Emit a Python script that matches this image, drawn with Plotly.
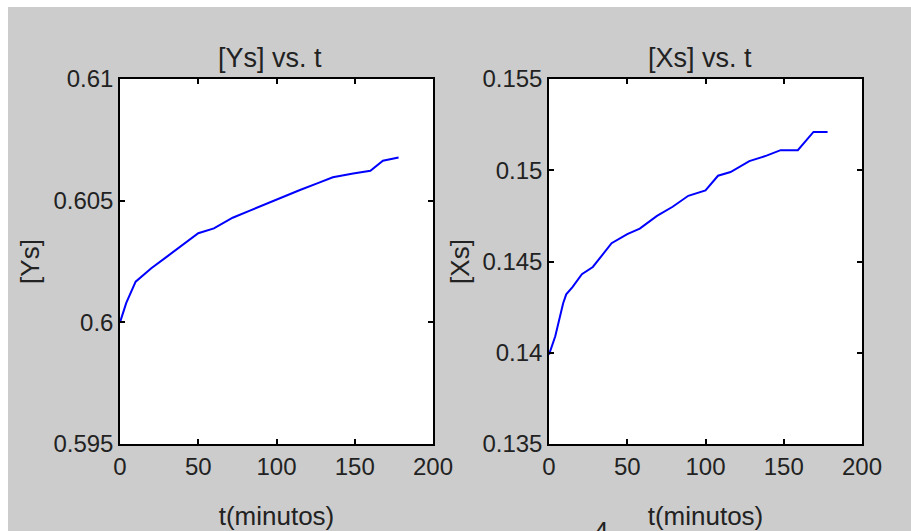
import plotly.graph_objects as go

# ---- data ----
t_ys = [0, 4, 10, 20, 30, 40, 50, 60, 72, 83, 94, 104, 115, 126, 136, 149, 160, 168, 178]
ys = [0.6000, 0.6008, 0.60167, 0.60222, 0.60270, 0.60318, 0.60366, 0.60386, 0.60430,
      0.60459, 0.60489, 0.60516, 0.60544, 0.60571, 0.60596, 0.60612, 0.60623, 0.60664, 0.60677]

t_xs = [0, 4, 9, 11, 15, 21, 28, 40, 50, 58, 69, 79, 89, 100, 108, 116, 128, 139, 148, 159, 169, 178]
xs = [0.1399, 0.1409, 0.1427, 0.1432, 0.1436, 0.1443, 0.1447, 0.1460, 0.1465, 0.1468, 0.1475,
      0.1480, 0.1486, 0.1489, 0.1497, 0.1499, 0.1505, 0.1508, 0.1511, 0.1511, 0.1521, 0.1521]

x_ticks = [0, 50, 100, 150, 200]
ys_ticks = [0.595, 0.6, 0.605, 0.61]
ys_ticklabels = ["0.595", "0.6", "0.605", "0.61"]
xs_ticks = [0.135, 0.14, 0.145, 0.15, 0.155]
xs_ticklabels = ["0.135", "0.14", "0.145", "0.15", "0.155"]

titles = ["[Ys] vs. t", "[Xs] vs. t"]
y_titles = ["[Ys]", "[Xs]"]
x_title = "t(minutos)"

# ---- styling ----
W, H = 911, 531
FONT = "Liberation Sans Narrow, Arial Narrow, Liberation Sans, Arial, sans-serif"
GRAY = "#cccccc"
LINE = "blue"
TXT = "#222222"

fig = go.Figure()
fig.add_trace(go.Scatter(x=t_ys, y=ys, mode="lines", line=dict(color=LINE, width=2),
                         xaxis="x", yaxis="y", showlegend=False))
fig.add_trace(go.Scatter(x=t_xs, y=xs, mode="lines", line=dict(color=LINE, width=2),
                         xaxis="x2", yaxis="y2", showlegend=False))

ydom = [1 - 444 / H, 1 - 79 / H]
xdom1 = [120 / W, 433 / W]
xdom2 = [549 / W, 862 / W]

common_axis = dict(
    showline=True, linecolor="black", linewidth=1.5, mirror="ticks",
    ticks="inside", ticklen=5, tickcolor="black", tickwidth=1.5,
    showgrid=False, zeroline=False, automargin=False,
    tickfont=dict(family=FONT, size=24, color=TXT),
)

fig.update_layout(
    template="none",
    width=W, height=H,
    margin=dict(l=0, r=0, t=0, b=0, pad=0),
    paper_bgcolor="white", plot_bgcolor="white",
    font=dict(family=FONT, color=TXT),
    showlegend=False,
    xaxis=dict(domain=xdom1, range=[0, 200], tickvals=x_ticks, anchor="y",
               title=dict(text=x_title, font=dict(family=FONT, size=26), standoff=28),
               **common_axis),
    yaxis=dict(domain=ydom, range=[0.595, 0.61], tickvals=ys_ticks, ticktext=ys_ticklabels,
               anchor="x",
               title=dict(text=y_titles[0], font=dict(family=FONT, size=26), standoff=6),
               **common_axis),
    xaxis2=dict(domain=xdom2, range=[0, 200], tickvals=x_ticks, anchor="y2",
                title=dict(text=x_title, font=dict(family=FONT, size=26), standoff=28),
                **common_axis),
    yaxis2=dict(domain=ydom, range=[0.135, 0.155], tickvals=xs_ticks, ticktext=xs_ticklabels,
                anchor="x2",
                title=dict(text=y_titles[1], font=dict(family=FONT, size=26), standoff=5),
                **common_axis),
    shapes=[
        dict(type="rect", xref="paper", yref="paper", x0=8 / W, x1=1, y0=0, y1=1 - 7 / H,
             fillcolor=GRAY, line=dict(width=0), layer="below"),
        dict(type="rect", xref="x domain", yref="y domain", x0=0, x1=1, y0=0, y1=1,
             fillcolor="white", line=dict(width=0), layer="below"),
        dict(type="rect", xref="x2 domain", yref="y2 domain", x0=0, x1=1, y0=0, y1=1,
             fillcolor="white", line=dict(width=0), layer="below"),
    ],
    annotations=[
        dict(text=titles[0], xref="paper", yref="paper", x=270 / W, y=1 - 58 / H,
             xanchor="center", yanchor="middle", showarrow=False,
             font=dict(family=FONT, size=27, color=TXT)),
        dict(text=titles[1], xref="paper", yref="paper", x=700 / W, y=1 - 58 / H,
             xanchor="center", yanchor="middle", showarrow=False,
             font=dict(family=FONT, size=27, color=TXT)),
        dict(text="4", xref="paper", yref="paper", x=601 / W, y=1 - 531 / H,
             xanchor="center", yanchor="middle", showarrow=False,
             font=dict(family=FONT, size=26, color=TXT)),
    ],
)

fig.write_html("out.html")
